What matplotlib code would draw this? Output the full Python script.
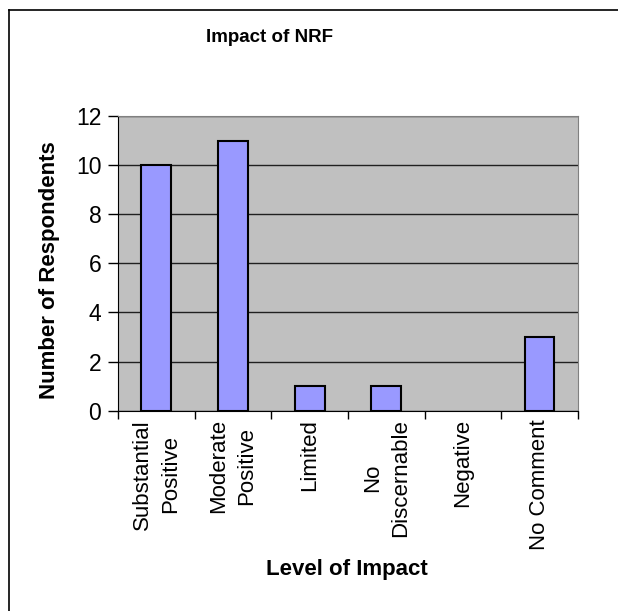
import matplotlib.pyplot as plt
from matplotlib.lines import Line2D

categories = ["Substantial\nPositive", "Moderate\nPositive", "Limited",
              "No\nDiscernable", "Negative", "No Comment"]
respondents = [10, 11, 1, 1, 0, 3]
y_ticks = [0, 2, 4, 6, 8, 10, 12]


def main():
    plt.rcParams["font.family"] = ["Liberation Sans", "DejaVu Sans"]

    fig = plt.figure(figsize=(6.18, 6.11), dpi=100)
    ax = fig.add_axes([0.191, 0.328, 0.744, 0.482])

    x = list(range(len(categories)))
    # a zero bar shows nothing in the original, not even its outline
    edges = [1.5 if v > 0 else 0 for v in respondents]
    ax.bar(x, respondents, width=0.39, color="#9999FF",
           edgecolor="black", linewidth=edges, zorder=3)

    ax.set_facecolor("#C0C0C0")
    ax.set_xlim(-0.5, len(categories) - 0.5)
    ax.set_ylim(0, 12)
    ax.set_yticks(y_ticks)
    ax.yaxis.grid(True, color="#202020", linewidth=1)
    ax.set_axisbelow(True)

    # labels at the bar centres, tick marks between categories
    ax.set_xticks(x)
    ax.set_xticklabels(categories, rotation=90, ha="center", va="top",
                       multialignment="center", linespacing=1.45, fontsize=16)
    ax.set_xticks([i - 0.5 for i in range(len(categories) + 1)], minor=True)
    ax.tick_params(axis="x", which="major", length=0, pad=6)
    ax.tick_params(axis="x", which="minor", length=6, width=1, color="black")
    ax.tick_params(axis="y", length=7, width=1, labelsize=16.5, pad=5)

    for side in ["top", "right"]:
        ax.spines[side].set_color("#808080")
    for side in ["left", "bottom"]:
        ax.spines[side].set_color("black")

    fig.text(270 / 618, 1 - 37 / 611, "Impact of NRF", fontsize=13.5,
             fontweight="bold", ha="center", va="center")
    fig.text(50 / 618, 1 - 270 / 611, "Number of Respondents", fontsize=16,
             fontweight="bold", ha="center", va="center", rotation=90)
    fig.text(347 / 618, 1 - 570 / 611, "Level of Impact", fontsize=16,
             fontweight="bold", ha="center", va="center")

    # chart border, only top and left are visible in the crop
    fig.add_artist(Line2D([9 / 618, 9 / 618], [0, 1 - 10 / 611],
                          transform=fig.transFigure, color="black", linewidth=1.2))
    fig.add_artist(Line2D([9 / 618, 1], [1 - 10 / 611, 1 - 10 / 611],
                          transform=fig.transFigure, color="black", linewidth=1.2))

    fig.savefig("out.png", dpi=100)


if __name__ == "__main__":
    main()
